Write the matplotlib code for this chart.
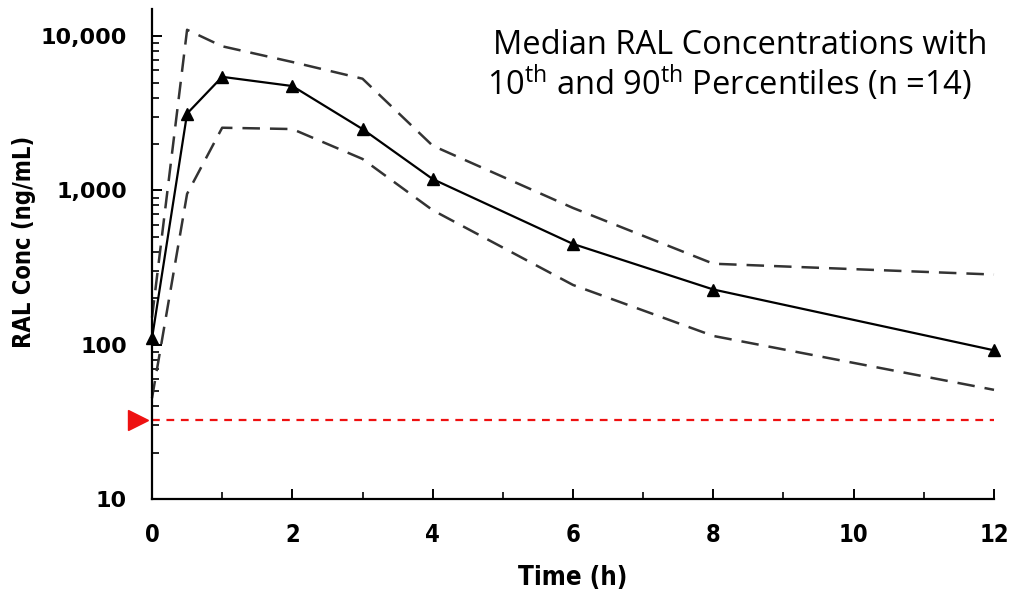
import matplotlib
matplotlib.use("Agg")
import matplotlib.pyplot as plt
from matplotlib.ticker import FixedLocator, FuncFormatter, LogLocator, NullFormatter

plt.rcParams['mathtext.fontset'] = 'custom'
plt.rcParams['mathtext.rm'] = 'Open Sans'
plt.rcParams['mathtext.it'] = 'Open Sans:italic'
plt.rcParams['mathtext.bf'] = 'Open Sans:bold'

# Data
time_h = [0, 0.5, 1, 2, 3, 4, 6, 8, 12]
median = [110, 3150, 5450, 4750, 2500, 1185, 450, 228, 92]
p90 = [150, 11000, 8600, 6800, 5300, 1950, 770, 335, 285]
p10 = [45, 950, 2550, 2500, 1600, 745, 244, 114, 51]
lloq = 32.5
x_ticks = [0, 2, 4, 6, 8, 10, 12]
y_ticks = [10, 100, 1000, 10000]
title_lines = ["Median RAL Concentrations with",
               r"10$^{\rm th}$ and 90$^{\rm th}$ Percentiles (n =14)"]

fig = plt.figure(figsize=(10.11, 5.94), dpi=100)
ax = fig.add_axes([152/1011, 1-499/594, (994-152)/1011, (499-9)/594])

ax.set_yscale('log')
ax.set_xlim(0, 12)
ax.set_ylim(10, 15000)

ax.plot(time_h, p90, color='#333333', lw=1.8, dashes=(7, 4), clip_on=False)
ax.plot(time_h, p10, color='#333333', lw=1.8, dashes=(7, 4), clip_on=False)
ax.plot(time_h, median, color='black', lw=1.6, marker='^', ms=8.5, clip_on=False)
ax.axhline(lloq, xmin=0, xmax=1, color='#ee1111', lw=1.6, dashes=(3.5, 3))
ax.plot([-0.017], [lloq], marker='>', color='#ee1111', ms=14,
        transform=ax.get_yaxis_transform(), clip_on=False)

for s in ['top', 'right']:
    ax.spines[s].set_visible(False)
for s in ['left', 'bottom']:
    ax.spines[s].set_linewidth(1.6)
    ax.spines[s].set_color('black')

ax.xaxis.set_major_locator(FixedLocator(x_ticks))
ax.xaxis.set_minor_locator(FixedLocator([1, 3, 5, 7, 9, 11]))
ax.yaxis.set_major_locator(FixedLocator(y_ticks))
ax.yaxis.set_minor_locator(LogLocator(base=10, subs=range(2, 10)))
ax.yaxis.set_minor_formatter(NullFormatter())
ax.yaxis.set_major_formatter(FuncFormatter(lambda v, p: f"{int(v):,}"))

ax.tick_params(axis='both', which='major', direction='in', length=7, width=1.4, colors='black')
ax.tick_params(axis='both', which='minor', direction='in', length=5, width=1.2, colors='black')
ax.tick_params(axis='y', which='major', pad=18)
ax.tick_params(axis='x', which='major', pad=17)

for lab in ax.get_yticklabels():
    lab.set_fontfamily('DejaVu Sans')
    lab.set_fontweight('bold')
    lab.set_fontsize(16)
for lab in ax.get_xticklabels():
    lab.set_fontfamily('DejaVu Sans')
    lab.set_fontstretch('condensed')
    lab.set_fontweight('bold')
    lab.set_fontsize(17)

ax.set_xlabel("Time (h)", fontsize=18.5, fontweight='bold', fontstretch='condensed',
              family='DejaVu Sans', va='center')
ax.xaxis.set_label_coords(0.5, -(578 - 499) / 490)
ax.set_ylabel("RAL Conc (ng/mL)", fontsize=17, fontweight='bold', fontstretch='condensed',
              family='DejaVu Sans', va='center')
ax.yaxis.set_label_coords((24 - 152) / 842, (499 - 242) / 490)

fig.text(740/1011, 1-45/594, title_lines[0], ha='center', va='center',
         fontsize=23.5, family='Open Sans')
fig.text(729/1011, 1-83/594, title_lines[1], ha='center', va='center',
         fontsize=23.5, family='Open Sans')

fig.savefig("out.png", dpi=100)
